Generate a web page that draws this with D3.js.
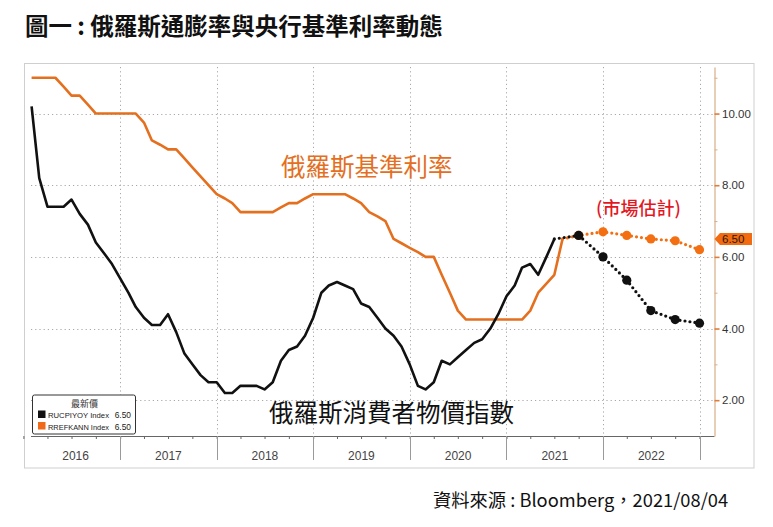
<!DOCTYPE html>
<html>
<head>
<meta charset="utf-8">
<script src="https://cdn.jsdelivr.net/npm/d3@7"></script>
<style>
  body { margin: 0; background: #fff; }
  svg { display: block; }
</style>
</head>
<body>
<div id="chart"></div>
<script>
const width = 773,
  height = 527;
const plotLeft = 31,
  plotRight = 714.5,
  plotTop = 67,
  plotBottom = 436;

// monthly history, first value = Jan 2016
const startMonth = "2016-01";
const cpiValues = [
  10.2, 8.2, 7.4, 7.4, 7.4, 7.6, 7.2, 6.9, 6.4, 6.1, 5.8, 5.4,
  5.0, 4.6, 4.3, 4.1, 4.1, 4.4, 3.9, 3.3, 3.0, 2.7, 2.5, 2.5,
  2.2, 2.2, 2.4, 2.4, 2.4, 2.3, 2.5, 3.1, 3.4, 3.5, 3.8, 4.3,
  5.0, 5.2, 5.3, 5.2, 5.1, 4.7, 4.6, 4.3, 4.0, 3.8, 3.5, 3.0,
  2.4, 2.3, 2.5, 3.1, 3.0, 3.2, 3.4, 3.6, 3.7, 4.0, 4.4, 4.9,
  5.2, 5.7, 5.8, 5.5, 6.0, 6.5,
];
const rateValues = [
  11, 11, 11, 11, 10.75, 10.5, 10.5, 10.25, 10, 10, 10, 10,
  10, 10, 9.75, 9.25, 9.13, 9.0, 9.0, 8.75, 8.5, 8.25, 8.0, 7.75,
  7.63, 7.5, 7.25, 7.25, 7.25, 7.25, 7.25, 7.38, 7.5, 7.5, 7.63, 7.75,
  7.75, 7.75, 7.75, 7.75, 7.63, 7.5, 7.25, 7.13, 7.0, 6.5, 6.38, 6.25,
  6.13, 6.0, 6.0, 5.5, 5.0, 4.5, 4.25, 4.25, 4.25, 4.25, 4.25, 4.25,
  4.25, 4.25, 4.5, 5.0, 5.25, 5.5, 6.5,
];

// market estimates, quarter ends
const forecastMonths = ["2021-09", "2021-12", "2022-03", "2022-06", "2022-09", "2022-12"];
const cpiForecast = [6.6, 6.0, 5.35, 4.5, 4.25, 4.15];
const rateForecast = [6.6, 6.7, 6.6, 6.5, 6.45, 6.2];

const years = ["2016", "2017", "2018", "2019", "2020", "2021", "2022"];
const yTicks = [2, 4, 6, 8, 10];
const yMinorTicks = [3, 5, 7, 9, 11];
const lastValue = 6.5;
const legendNames = ["RUCPIYOY Index", "RREFKANN Index"];
const legendValues = ["6.50", "6.50"];

const black = "#111111";
const orange = "#e4701f";
const orangeDot = "#f36f12";

const parseMonth = d3.timeParse("%Y-%m");
// each monthly value sits at the end of its month
const monthEnd = (s) => d3.timeMonth.offset(parseMonth(s), 1);

const toSeries = (values) =>
  values.map((v, i) => ({
    date: d3.timeMonth.offset(monthEnd(startMonth), i),
    value: v,
  }));

const cpiData = toSeries(cpiValues);
const rateData = toSeries(rateValues);
const cpiFc = forecastMonths.map((m, i) => ({ date: monthEnd(m), value: cpiForecast[i] }));
const rateFc = forecastMonths.map((m, i) => ({ date: monthEnd(m), value: rateForecast[i] }));

const xScale = d3
  .scaleTime()
  .domain([new Date(2016, 0, 1), new Date(2023, 0, 1)])
  .range([23.4, 699.5]);
const yScale = d3.scaleLinear().domain([1, 11.3]).range([plotBottom, plotTop]);

const svg = d3
  .select("#chart")
  .append("svg")
  .attr("width", width)
  .attr("height", height);

const cjk = "'Noto Sans CJK TC', 'Noto Sans', sans-serif";
const latin = "'Liberation Sans', Arial, sans-serif";

const drawFrame = () => {
  svg
    .append("text")
    .text("圖一 : 俄羅斯通膨率與央行基準利率動態")
    .attr("x", 25)
    .attr("y", 35)
    .attr("font-family", cjk)
    .attr("font-weight", "bold")
    .attr("font-size", 23.5)
    .attr("fill", "#111");

  svg
    .append("rect")
    .attr("x", 24.5)
    .attr("y", 63.5)
    .attr("width", 729.5)
    .attr("height", 404.5)
    .attr("fill", "#fff")
    .attr("stroke", "#cfcfcf");

  svg
    .append("text")
    .text("資料來源 : Bloomberg，2021/08/04")
    .attr("x", 433)
    .attr("y", 507)
    .attr("font-family", cjk)
    .attr("font-size", 18.3)
    .attr("fill", "#111");
};

const drawGrid = () => {
  const grid = svg.append("g").attr("stroke", "#a8a8a8").attr("stroke-dasharray", "1.2,3");
  grid
    .selectAll("line.h")
    .data(yTicks)
    .enter()
    .append("line")
    .attr("x1", plotLeft)
    .attr("x2", plotRight)
    .attr("y1", (d) => Math.round(yScale(d)) + 0.5)
    .attr("y2", (d) => Math.round(yScale(d)) + 0.5);

  const bounds = years.slice(1).map((y) => new Date(+y, 0, 1)).concat([new Date(2023, 0, 1)]);
  grid
    .selectAll("line.v")
    .data(bounds)
    .enter()
    .append("line")
    .attr("x1", (d) => Math.round(xScale(d)) + 0.5)
    .attr("x2", (d) => Math.round(xScale(d)) + 0.5)
    .attr("y1", plotTop)
    .attr("y2", plotBottom);
};

const drawAxes = () => {
  // bottom: quarter ticks, year dividers, year labels
  const xAxis = d3
    .axisBottom(xScale)
    .ticks(d3.timeMonth.every(3))
    .tickSize(3)
    .tickSizeOuter(0)
    .tickFormat("");
  const gx = svg.append("g").attr("transform", `translate(0,${plotBottom})`).call(xAxis);
  gx.select(".domain").attr("stroke", "#666").attr("d", `M${plotLeft},0.5H${plotRight}`);
  gx.selectAll(".tick line").attr("stroke", "#666");

  const bounds = years.slice(1).map((y) => new Date(+y, 0, 1)).concat([new Date(2023, 0, 1)]);
  svg
    .append("g")
    .selectAll("line")
    .data(bounds)
    .enter()
    .append("line")
    .attr("x1", (d) => Math.round(xScale(d)) + 0.5)
    .attr("x2", (d) => Math.round(xScale(d)) + 0.5)
    .attr("y1", plotBottom)
    .attr("y2", 460)
    .attr("stroke", "#9a9a9a");

  svg
    .append("g")
    .selectAll("text")
    .data(years)
    .enter()
    .append("text")
    .text((d) => d)
    .attr("x", (d) => {
      const a = Math.max(xScale(new Date(+d, 0, 1)), plotLeft);
      const b = xScale(new Date(+d + 1, 0, 1));
      return (a + b) / 2;
    })
    .attr("y", 459.5)
    .attr("text-anchor", "middle")
    .attr("font-family", latin)
    .attr("font-size", 12)
    .attr("fill", "#444");

  // right value axis
  const yAxis = d3
    .axisRight(yScale)
    .tickValues(yTicks)
    .tickFormat(d3.format(".2f"))
    .tickSize(5)
    .tickSizeOuter(0)
    .tickPadding(2.5);
  const gy = svg.append("g").attr("transform", `translate(${plotRight},0)`).call(yAxis);
  gy.select(".domain").attr("stroke", "#dcb48f").attr("stroke-width", 1.3);
  gy.selectAll(".tick line").attr("stroke", "#e07b39").attr("stroke-width", 1.6);
  gy.selectAll(".tick text")
    .attr("font-family", latin)
    .attr("font-size", 11.5)
    .attr("fill", "#333");

  const yMinor = d3.axisRight(yScale).tickValues(yMinorTicks).tickSize(3).tickFormat("");
  const gm = svg.append("g").attr("transform", `translate(${plotRight},0)`).call(yMinor);
  gm.select(".domain").remove();
  gm.selectAll(".tick line").attr("stroke", "#d7b08c");

  // latest value tag
  const ty = yScale(lastValue);
  svg
    .append("path")
    .attr("d", `M${plotRight},${ty}L${plotRight + 5.5},${ty - 6}H752V${ty + 6}H${plotRight + 5.5}Z`)
    .attr("fill", "#f26b10");
  svg
    .append("text")
    .text(d3.format(".2f")(lastValue))
    .attr("x", plotRight + 7.5)
    .attr("y", ty + 4.2)
    .attr("font-family", latin)
    .attr("font-size", 11.5)
    .attr("fill", "#2a1a10");
};

const drawLines = () => {
  const line = d3
    .line()
    .x((d) => xScale(d.date))
    .y((d) => yScale(d.value));

  svg
    .append("path")
    .datum(rateData)
    .attr("d", line)
    .attr("fill", "none")
    .attr("stroke", orange)
    .attr("stroke-width", 2.6)
    .attr("stroke-linejoin", "round");

  svg
    .append("path")
    .datum(cpiData)
    .attr("d", line)
    .attr("fill", "none")
    .attr("stroke", black)
    .attr("stroke-width", 2.6)
    .attr("stroke-linejoin", "round");

  const drawForecast = (last, fc, color) => {
    svg
      .append("path")
      .datum([last].concat(fc))
      .attr("d", line)
      .attr("fill", "none")
      .attr("stroke", color)
      .attr("stroke-width", 3.2)
      .attr("stroke-linecap", "round")
      .attr("stroke-dasharray", "0,5");
    svg
      .append("g")
      .selectAll("circle")
      .data(fc)
      .enter()
      .append("circle")
      .attr("cx", (d) => xScale(d.date))
      .attr("cy", (d) => yScale(d.value))
      .attr("r", 4.6)
      .attr("fill", color);
  };
  drawForecast(rateData[rateData.length - 1], rateFc, orangeDot);
  drawForecast(cpiData[cpiData.length - 1], cpiFc, black);
};

const drawLabels = () => {
  svg
    .append("text")
    .text("俄羅斯基準利率")
    .attr("x", 281)
    .attr("y", 176)
    .attr("font-family", cjk)
    .attr("font-size", 24.5)
    .attr("fill", orange);

  svg
    .append("text")
    .text("俄羅斯消費者物價指數")
    .attr("x", 269)
    .attr("y", 422)
    .attr("font-family", cjk)
    .attr("font-size", 24.5)
    .attr("fill", "#111");

  svg
    .append("text")
    .text("(市場估計)")
    .attr("x", 596)
    .attr("y", 215)
    .attr("font-family", cjk)
    .attr("font-weight", 500)
    .attr("font-size", 18)
    .attr("fill", "#e3181f");
};

const drawLegend = () => {
  const g = svg.append("g").attr("transform", "translate(32.5,395)");
  g.append("rect")
    .attr("width", 103)
    .attr("height", 39)
    .attr("rx", 2)
    .attr("fill", "#fff")
    .attr("stroke", "#333");
  g.append("text")
    .text("最新價")
    .attr("x", 52)
    .attr("y", 11.5)
    .attr("text-anchor", "middle")
    .attr("font-family", cjk)
    .attr("font-size", 9)
    .attr("fill", "#333");
  const colors = [black, "#f06a1a"];
  const rows = g
    .selectAll("g.row")
    .data(legendNames)
    .enter()
    .append("g")
    .attr("transform", (d, i) => `translate(0,${15.5 + i * 11.5})`);
  rows
    .append("rect")
    .attr("x", 5.5)
    .attr("y", 0)
    .attr("width", 7.5)
    .attr("height", 7.5)
    .attr("fill", (d, i) => colors[i]);
  rows
    .append("text")
    .text((d) => d)
    .attr("x", 15.5)
    .attr("y", 7.5)
    .attr("textLength", 61)
    .attr("lengthAdjust", "spacingAndGlyphs")
    .attr("font-family", latin)
    .attr("font-size", 7.9)
    .attr("fill", "#222");
  rows
    .append("text")
    .text((d, i) => legendValues[i])
    .attr("x", 98.5)
    .attr("y", 7.5)
    .attr("text-anchor", "end")
    .attr("font-family", latin)
    .attr("font-size", 8.4)
    .attr("fill", "#222");
};

drawFrame();
drawGrid();
drawAxes();
drawLines();
drawLabels();
drawLegend();
</script>
</body>
</html>
